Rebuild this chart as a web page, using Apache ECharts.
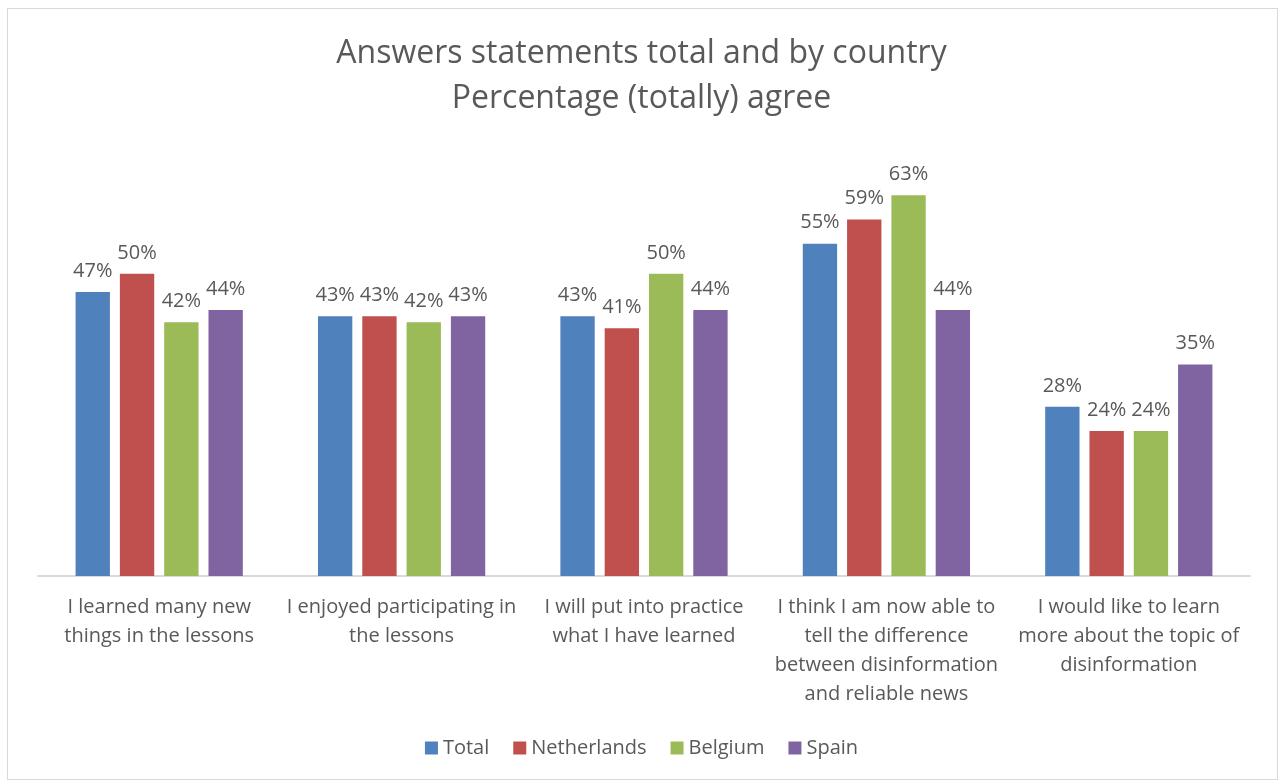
<!DOCTYPE html>
<html>
<head>
<meta charset="utf-8">
<script src="https://cdn.jsdelivr.net/npm/echarts@6/dist/echarts.min.js"></script>
<style>
  html, body { margin: 0; padding: 0; background: #fff; }
  #frame { position: absolute; left: 7px; top: 8px; width: 1271px; height: 772px; border: 1px solid #d9d9d9; box-sizing: border-box; }
  #chart { position: absolute; left: 0; top: 0; width: 1283px; height: 780px; }
</style>
</head>
<body>
<div id="frame"></div>
<div id="chart"></div>
<script>
// categories (line breaks as in the original)
var categories = [
  'I learned many new\nthings in the lessons',
  'I enjoyed participating in\nthe lessons',
  'I will put into practice\nwhat I have learned',
  'I think I am now able to\ntell the difference\nbetween disinformation\nand reliable news',
  'I would like to learn\nmore about the topic of\ndisinformation'
];

// percentage (totally) agree
var total       = [47, 43, 43, 55, 28];
var netherlands = [50, 43, 41, 59, 24];
var belgium     = [42, 42, 50, 63, 24];
var spain       = [44, 43, 44, 44, 35];

var colors = ['#4F81BD', '#C0504D', '#9BBB59', '#8064A2'];
var textColor = '#595959';
var font = '"Open Sans", "Noto Sans", sans-serif';

var myChart = echarts.init(document.getElementById('chart'));

function bar(name, data) {
  return {
    name: name,
    type: 'bar',
    data: data,
    barGap: '29%',
    barCategoryGap: '31%',
    label: {
      show: true,
      position: 'top',
      distance: 11,
      formatter: '{c}%',
      color: textColor,
      fontSize: 20,
      fontFamily: font
    }
  };
}

var option = {
  color: colors,
  animation: false,
  title: {
    text: 'Answers statements total and by country\nPercentage (totally) agree',
    left: 'center',
    top: 26,
    textStyle: {
      color: textColor,
      fontSize: 32,
      fontWeight: 'normal',
      fontFamily: font,
      lineHeight: 45
    }
  },
  legend: {
    bottom: 17,
    left: 'center',
    itemWidth: 13,
    itemHeight: 13,
    itemGap: 24,
    icon: 'rect',
    textStyle: { color: textColor, fontSize: 20, fontFamily: font },
    data: ['Total', 'Netherlands', 'Belgium', 'Spain']
  },
  grid: { left: 38, right: 33, top: 153, bottom: 204 },
  xAxis: {
    type: 'category',
    data: categories,
    axisLine: { lineStyle: { color: '#d9d9d9', width: 2 } },
    axisTick: { show: false },
    axisLabel: {
      interval: 0,
      color: textColor,
      fontSize: 20,
      fontFamily: font,
      lineHeight: 29,
      margin: 17
    }
  },
  yAxis: {
    type: 'value',
    min: 0,
    max: 70,
    show: false,
    splitLine: { show: false }
  },
  series: [
    bar('Total', total),
    bar('Netherlands', netherlands),
    bar('Belgium', belgium),
    bar('Spain', spain)
  ]
};

myChart.setOption(option);
</script>
</body>
</html>
